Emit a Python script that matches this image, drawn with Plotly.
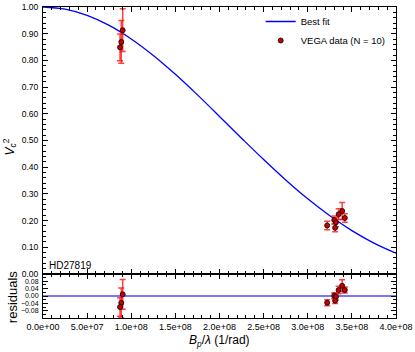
import plotly.graph_objects as go

# VEGA 数据 (HD27819)
baseline = [0.903e8, 0.887e8, 0.873e8, 3.22e8, 3.30e8, 3.32e8, 3.31e8, 3.35e8, 3.39e8, 3.42e8]
vis2 = [0.913, 0.869, 0.849, 0.182, 0.202, 0.194, 0.173, 0.224, 0.236, 0.210]
vis2_err = [0.08, 0.08, 0.05, 0.016, 0.015, 0.017, 0.015, 0.02, 0.032, 0.016]
resid = [0.009, -0.037, -0.059, -0.036, 0.002, -0.004, -0.025, 0.032, 0.055, 0.032]

# best fit curve, read at 0.25e8 steps
fit_x = [0, 0.25e8, 0.5e8, 0.75e8, 1.0e8, 1.25e8, 1.5e8, 1.75e8, 2.0e8,
         2.25e8, 2.5e8, 2.75e8, 3.0e8, 3.25e8, 3.5e8, 3.75e8, 4.0e8]
fit_v2 = [1.0, 0.9922, 0.9689, 0.9312, 0.8804, 0.8185, 0.7478, 0.6708, 0.5902,
          0.5086, 0.4285, 0.3522, 0.2814, 0.2179, 0.1624, 0.1157, 0.0779]

x_ticks = [0, 0.5e8, 1.0e8, 1.5e8, 2.0e8, 2.5e8, 3.0e8, 3.5e8, 4.0e8]
x_ticktext = ['0.0e+00', '5.0e+07', '1.0e+08', '1.5e+08', '2.0e+08',
              '2.5e+08', '3.0e+08', '3.5e+08', '4.0e+08']

FONT = 'Liberation Sans, Arial, sans-serif'
ERR_COL = 'rgba(255,0,0,0.75)'
MARK_COL = '#c80000'

fig = go.Figure()

fig.add_trace(go.Scatter(
    x=fit_x, y=fit_v2, mode='lines', name='Best fit',
    line=dict(color='#0000ff', width=1.3, shape='spline'),
    xaxis='x2', yaxis='y',
))
fig.add_trace(go.Scatter(
    x=baseline, y=vis2, mode='markers', name='VEGA data (N = 10)',
    marker=dict(color=MARK_COL, size=5, line=dict(color='black', width=0.8)),
    error_y=dict(type='data', array=vis2_err, color=ERR_COL, thickness=1.5, width=3),
    xaxis='x2', yaxis='y',
))

# 残差
fig.add_trace(go.Scatter(
    x=[0, 4.0e8], y=[0, 0], mode='lines', showlegend=False,
    line=dict(color='rgba(60,60,255,0.7)', width=2),
    xaxis='x', yaxis='y2',
))
fig.add_trace(go.Scatter(
    x=baseline, y=resid, mode='markers', showlegend=False,
    marker=dict(color=MARK_COL, size=5, line=dict(color='black', width=0.8)),
    error_y=dict(type='data', array=vis2_err, color=ERR_COL, thickness=1.5, width=3),
    xaxis='x', yaxis='y2',
))

axis_common = dict(
    showline=True, linecolor='black', linewidth=1, mirror='ticks',
    ticks='inside', ticklen=5, tickcolor='black', tickwidth=1,
    showgrid=False, zeroline=False, automargin=False,
)
xfont = dict(family=FONT, size=9, color='black')
yfont = dict(family=FONT, size=8.5, color='black')

res_dom = 44 / 311

fig.update_layout(
    width=415, height=352,
    template='plotly_white',
    plot_bgcolor='white', paper_bgcolor='white',
    margin=dict(l=43, r=19, t=7, b=34, autoexpand=False),
    font=dict(family=FONT, color='black'),
    showlegend=True,
    legend=dict(x=0.985, y=1.0, xanchor='right', yanchor='top',
                bgcolor='rgba(0,0,0,0)', font=dict(family=FONT, size=9.5),
                itemwidth=30, tracegroupgap=0),
    xaxis=dict(
        **axis_common, domain=[0, 1], anchor='y2', range=[0, 4.0e8],
        tickvals=x_ticks, ticktext=x_ticktext, tickfont=xfont,
        minor=dict(dtick=1e7, tick0=0, ticks='inside', ticklen=3, tickcolor='black'),
    ),
    xaxis2=dict(
        **axis_common, domain=[0, 1], anchor='y', range=[0, 4.0e8],
        matches='x', showticklabels=False, tickvals=x_ticks,
        minor=dict(dtick=1e7, tick0=0, ticks='inside', ticklen=3, tickcolor='black'),
    ),
    yaxis=dict(
        **axis_common, domain=[res_dom, 1], anchor='x2', range=[0, 1.0],
        dtick=0.1, tick0=0, tickformat='.2f', tickfont=yfont, ticklabelstandoff=2,
        minor=dict(dtick=0.02, ticks='inside', ticklen=3, tickcolor='black'),
    ),
    yaxis2=dict(
        **axis_common, domain=[0, res_dom], anchor='x', range=[-0.118, 0.118],
        tickvals=[-0.08, -0.04, 0.0, 0.04, 0.08], tickformat='.2f',
        tickfont=dict(family=FONT, size=7, color='black'), ticklabelstandoff=2,
        minor=dict(dtick=0.02, ticks='inside', ticklen=3, tickcolor='black'),
    ),
    annotations=[
        dict(text='HD27819', xref='paper', yref='y', x=0.01, y=0.03,
             xanchor='left', yanchor='middle', showarrow=False,
             font=dict(family=FONT, size=10, color='black')),
        dict(text='<i>B</i><sub><i>p</i></sub>/<i>λ</i> (1/rad)',
             xref='paper', yref='paper', x=0.5, y=-0.075,
             xanchor='center', yanchor='middle', showarrow=False,
             font=dict(family=FONT, size=12, color='black')),
        dict(text='<i>V</i><sub><i>c</i></sub><sup>2</sup>',
             xref='paper', yref='paper', x=-0.095, y=0.55, textangle=-90,
             xanchor='center', yanchor='middle', showarrow=False,
             font=dict(family=FONT, size=12, color='black')),
        dict(text='residuals',
             xref='paper', yref='paper', x=-0.088, y=0.07, textangle=-90,
             xanchor='center', yanchor='middle', showarrow=False,
             font=dict(family=FONT, size=13, color='black')),
    ],
)

# page body has a default 8px margin; drop it so the figure sits at the corner
fig.write_html('out.html', config={'displayModeBar': False},
               post_script="document.body.style.margin='0';")
